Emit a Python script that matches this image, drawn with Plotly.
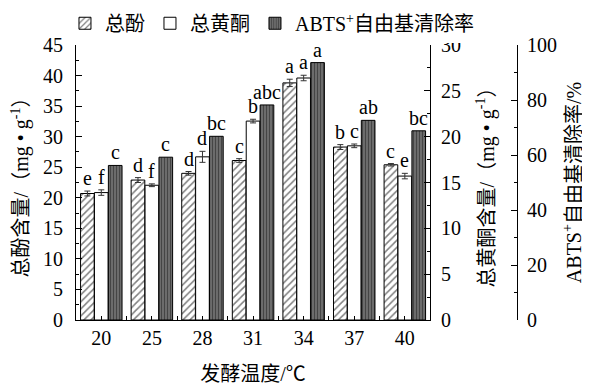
import plotly.graph_objects as go

temps = ["20", "25", "28", "31", "34", "37", "40"]
phenol = [20.7, 22.9, 24.0, 26.1, 38.8, 28.3, 25.4]
phenol_err = [0.4, 0.4, 0.3, 0.3, 0.6, 0.4, 0.2]
phenol_sig = ["e", "d", "d", "c", "a", "b", "c"]
flav = [13.9, 14.7, 17.8, 21.7, 26.4, 19.0, 15.7]
flav_err = [0.3, 0.15, 0.6, 0.2, 0.3, 0.2, 0.3]
flav_sig = ["f", "f", "d", "b", "a", "c", "e"]
abts = [56.2, 59.2, 66.8, 78.2, 93.6, 72.6, 68.8]
abts_err = [0.0, 0.0, 0.0, 0.0, 0.0, 0.0, 0.0]
abts_sig = ["c", "c", "bc", "abc", "a", "ab", "bc"]

FONT = '"Liberation Serif", "Noto Sans CJK SC", serif'
xs = list(range(len(temps)))
W = 0.27
offsets = [-0.41, -0.135, 0.14]

fig = go.Figure()
series = [
    ("总酚", phenol, phenol_err, phenol_sig, "y", True,
     dict(color="white", line=dict(color="black", width=1),
          pattern=dict(shape="/", fgcolor="black", bgcolor="white", size=5, solidity=0.3))),
    ("总黄酮", flav, flav_err, flav_sig, "y2", True,
     dict(color="white", line=dict(color="black", width=1))),
    ("ABTS<sup>+</sup>自由基清除率", abts, abts_err, abts_sig, "y3", False,
     dict(color="#5a5a5a", line=dict(color="black", width=1),
          pattern=dict(shape="|", fgcolor="#1a1a1a", bgcolor="#707070", size=3, solidity=0.4))),
]

annotations = []
for k, (name, vals, errs, sig, yax, show_err, marker) in enumerate(series):
    fig.add_trace(go.Bar(
        x=xs, y=vals, name=name, yaxis=yax, width=W, offset=offsets[k],
        marker=marker,
        error_y=dict(type="data", array=errs, visible=show_err, color="#333333", thickness=1, width=3),
    ))
    for i, v in enumerate(vals):
        annotations.append(dict(
            x=xs[i] + offsets[k] + W / 2, y=v + errs[i], xref="x",
            yref=yax, text=sig[i], showarrow=False, yanchor="bottom", yshift=0,
            font=dict(family=FONT, size=20, color="black"),
        ))

axis_common = dict(
    showline=True, linecolor="black", linewidth=1, ticks="inside", ticklen=6,
    tickcolor="black", showgrid=False, zeroline=False, automargin=False,
    tickfont=dict(family=FONT, size=20, color="black"),
)
title_font = dict(family=FONT, size=20, color="black")

# page body has an 8px default margin; figure is sized to fit the 590x388 window
fig.update_layout(
    width=582, height=380,
    margin=dict(l=68, r=73, t=37, b=68, autoexpand=False),
    paper_bgcolor="white", plot_bgcolor="white",
    barmode="overlay",
    showlegend=True,
    legend=dict(orientation="h", x=-0.025, xanchor="left", y=1.15, yanchor="top",
                font=dict(family=FONT, size=20, color="black"), itemwidth=30,
                traceorder="normal", tracegroupgap=0, itemclick=False),
    xaxis=dict(
        domain=[0, 0.803], range=[-0.5, 6.5],
        tickvals=xs, ticktext=temps, automargin=False,
        showline=True, linecolor="black", linewidth=1, ticks="inside", ticklen=4,
        tickcolor="black", showgrid=False, zeroline=False,
        minor=dict(tickvals=[i + 0.5 for i in xs[:-1]], ticks="inside", ticklen=4, tickcolor="black"),
        tickfont=dict(family=FONT, size=20, color="black"),
        title=dict(text="发酵温度/℃", font=title_font, standoff=18),
    ),
    yaxis=dict(
        range=[0, 45], dtick=5, **axis_common, ticklabelstandoff=8,
        minor=dict(dtick=2.5, ticks="inside", ticklen=3, tickcolor="black"),
        title=dict(text="总酚含量/（mg • g<sup>-1</sup>）", font=title_font, standoff=22),
    ),
    yaxis2=dict(
        range=[0, 30], dtick=5, overlaying="y", side="right", anchor="x", **axis_common,
        ticklabelstandoff=6,
        minor=dict(dtick=2.5, ticks="inside", ticklen=3, tickcolor="black"),
        title=dict(text="总黄酮含量/（mg • g<sup>-1</sup>）", font=title_font, standoff=19),
    ),
    yaxis3=dict(
        range=[0, 100], dtick=20, overlaying="y", side="right", anchor="free", position=1.0,
        **axis_common, ticklabelstandoff=5,
        minor=dict(dtick=10, ticks="inside", ticklen=3, tickcolor="black"),
        title=dict(text="ABTS<sup>+</sup>自由基清除率/%", font=title_font, standoff=10),
    ),
    annotations=annotations,
)

fig.write_html("out.html")
